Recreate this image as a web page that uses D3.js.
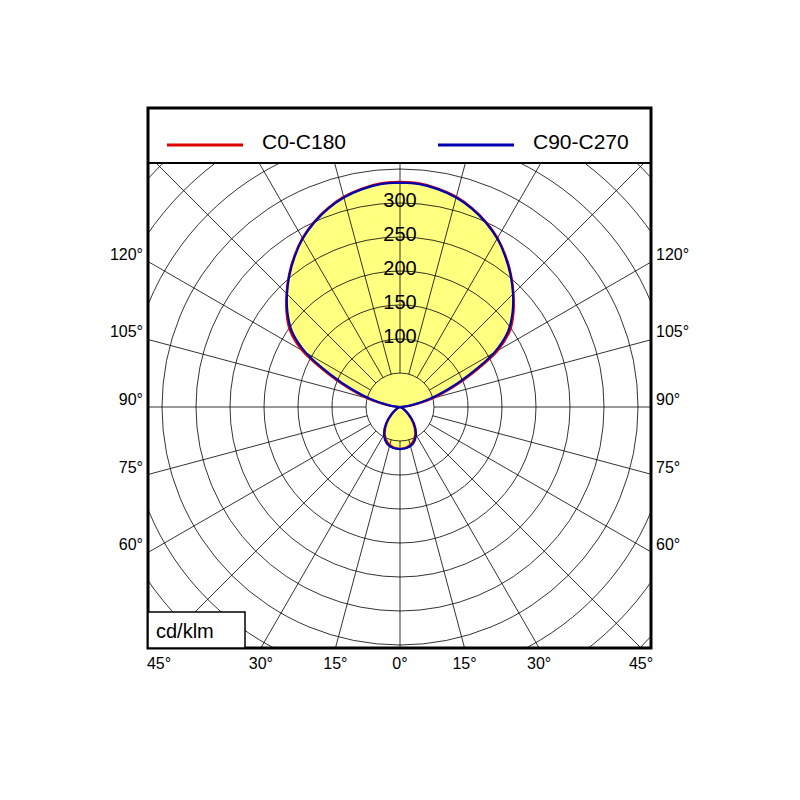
<!DOCTYPE html>
<html><head><meta charset="utf-8">
<script src="https://cdn.jsdelivr.net/npm/d3@7"></script>
<style>body{margin:0;background:#fff}</style>
</head><body>
<svg id="chart" width="800" height="800"></svg>
<script>
// gamma angles (0 = straight down, 180 = straight up), intensity in cd/klm
const gammas = [0,10,20,30,40,50,60,70,80,90,95,100,105,110,115,120,125,130,135,140,145,150,155,160,165,170,175,180];
const c0c180 = [62,60,55,45,30,15,6,2,0,0,8,25,50,80,118,166,198,218,236,254,271,287,300,311,320,326,330,331];
const c90c270 = [62,61,57,47,32,16,6,2,0,0,6,20,44,74,112,160,194,216,235,253,270,286,299,310,319,325,329,330];
const ringLabels = [100,150,200,250,300];
const sideLabels = [60,75,90,105,120];
const bottomLabels = [45,30,15,0,15,30,45];

const svg = d3.select("#chart");
const box = {x0:148, x1:651, y0:108, y1:648, plotTop:163};
const cx = 400, cy = 407;
const r = d3.scaleLinear().domain([0,50]).range([0,34]);
const font = "Arial, 'Liberation Sans', sans-serif";

svg.append("clipPath").attr("id","plot").append("rect")
    .attr("x",box.x0).attr("y",box.plotTop).attr("width",box.x1-box.x0).attr("height",box.y1-box.plotTop);

const g = svg.append("g").attr("clip-path","url(#plot)");

function pt(gamma, val, side) {
    const a = gamma*Math.PI/180;
    return [cx + side*r(val)*Math.sin(a), cy + r(val)*Math.cos(a)];
}
function outline(vals) {
    const right = gammas.map((gm,i) => pt(gm, vals[i], 1));
    const left = gammas.map((gm,i) => pt(gm, vals[i], -1)).reverse();
    return right.concat(left);
}
const line = d3.line().curve(d3.curveCatmullRomClosed);

// fill
g.append("path").attr("d", line(outline(c0c180))).attr("fill","#ffff80").attr("stroke","none");
g.append("path").attr("d", line(outline(c90c270))).attr("fill","#ffff80").attr("stroke","none");

// grid circles
g.selectAll("circle.grid").data(d3.range(50, 600, 50)).enter().append("circle")
    .attr("cx",cx).attr("cy",cy).attr("r",d => r(d))
    .attr("fill","none").attr("stroke","#000").attr("stroke-width",0.8);
// radial lines
g.selectAll("line.rad").data(d3.range(0,360,15)).enter().append("line")
    .attr("x1",d => cx + r(50)*Math.sin(d*Math.PI/180))
    .attr("y1",d => cy + r(50)*Math.cos(d*Math.PI/180))
    .attr("x2",d => cx + 700*Math.sin(d*Math.PI/180))
    .attr("y2",d => cy + 700*Math.cos(d*Math.PI/180))
    .attr("stroke","#000").attr("stroke-width",0.8);

// curves
g.append("path").attr("d", line(outline(c0c180))).attr("fill","none").attr("stroke","#e00000").attr("stroke-width",2.2);
g.append("path").attr("d", line(outline(c90c270))).attr("fill","none").attr("stroke","#0000b0").attr("stroke-width",2.2);

// ring labels
g.selectAll("text.ring").data(ringLabels).enter().append("text")
    .attr("x",cx).attr("y",d => cy - r(d) + 4).attr("text-anchor","middle")
    .attr("font-family",font).attr("font-size",20).text(d => d);

// frame
svg.append("rect").attr("x",box.x0).attr("y",box.y0).attr("width",box.x1-box.x0).attr("height",box.y1-box.y0)
    .attr("fill","none").attr("stroke","#000").attr("stroke-width",3);
svg.append("line").attr("x1",box.x0).attr("x2",box.x1).attr("y1",box.plotTop).attr("y2",box.plotTop)
    .attr("stroke","#000").attr("stroke-width",2);

// legend
const legend = [{name:"C0-C180", color:"#e00000", x:167},{name:"C90-C270", color:"#0000b0", x:438}];
legend.forEach(l => {
    svg.append("line").attr("x1",l.x).attr("x2",l.x+76).attr("y1",145).attr("y2",145).attr("stroke",l.color).attr("stroke-width",3);
    svg.append("text").attr("x",l.x+95).attr("y",149).attr("font-family",font).attr("font-size",21).text(l.name);
});

// unit box
svg.append("rect").attr("x",box.x0).attr("y",612).attr("width",97).attr("height",36).attr("fill","#fff").attr("stroke","#000").attr("stroke-width",1.5);
svg.append("text").attr("x",156).attr("y",638).attr("font-family",font).attr("font-size",20).text("cd/klm");

// side angle labels
const halfW = cx - box.x0;
sideLabels.forEach(a => {
    const y = cy + halfW*Math.tan((90-a)*Math.PI/180) + 4;
    svg.append("text").attr("x",143).attr("y",y - 6).attr("text-anchor","end").attr("font-family",font).attr("font-size",16).text(a+"°");
    svg.append("text").attr("x",656).attr("y",y - 6).attr("font-family",font).attr("font-size",16).text(a+"°");
});
// bottom angle labels
const halfH = box.y1 - cy;
bottomLabels.forEach((a,i) => {
    const s = i < 3 ? -1 : (i === 3 ? 0 : 1);
    const x = cx + s*halfH*Math.tan(a*Math.PI/180);
    svg.append("text").attr("x",x).attr("y",669).attr("text-anchor","middle").attr("font-family",font).attr("font-size",16).text(a+"°");
});
</script>
</body></html>
